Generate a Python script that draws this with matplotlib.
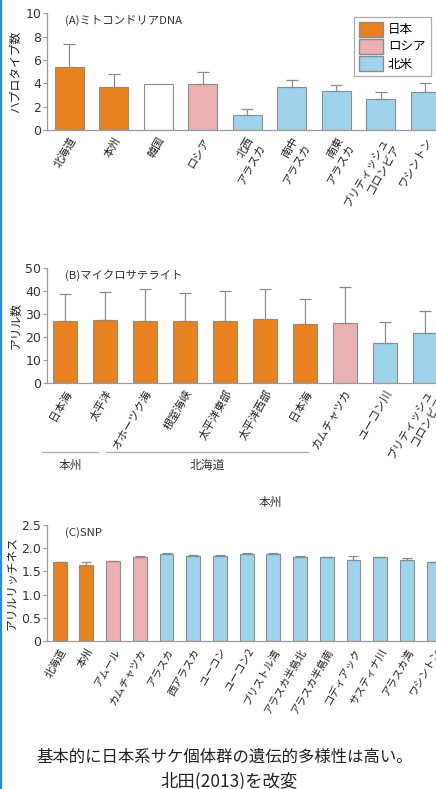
import matplotlib
matplotlib.use("Agg")
import matplotlib.pyplot as plt
from matplotlib.patches import Patch
from matplotlib.lines import Line2D

plt.rcParams['font.family'] = ['Noto Sans CJK JP', 'DejaVu Sans']

ORANGE = '#E8821F'
PINK = '#EAB0B2'
BLUE = '#9DD3EB'
WHITE = '#FFFFFF'
EDGE = '#8C8C8C'
GRID = '#9A9A9A'

# (A) mitochondrial DNA
a_labels = ['北海道', '本州', '韓国', 'ロシア', '北西\nアラスカ', '南中\nアラスカ',
            '南東\nアラスカ', 'ブリティッシュ\nコロンビア', 'ワシントン']
a_values = [5.43, 3.71, 3.94, 3.91, 1.31, 3.66, 3.37, 2.66, 3.23]
a_upper = [7.34, 4.80, None, 5.00, 1.80, 4.29, 3.86, 3.23, 4.06]
a_colors = [ORANGE, ORANGE, WHITE, PINK, BLUE, BLUE, BLUE, BLUE, BLUE]

# (B) microsatellite
b_labels = ['日本海', '太平洋', 'オホーツク海', '根室海峡', '太平洋東部', '太平洋西部',
            '日本海', 'カムチャツカ', 'ユーコン川', 'ブリティッシュ\nコロンビア']
b_values = [26.9, 27.2, 26.9, 26.7, 26.9, 27.8, 25.6, 25.9, 17.1, 21.7]
b_upper = [38.6, 39.6, 40.6, 38.9, 40.0, 40.9, 36.5, 41.5, 26.5, 31.3]
b_colors = [ORANGE] * 7 + [PINK] + [BLUE] * 2

# (C) SNP
c_labels = ['北海道', '本州', 'アムール', 'カムチャツカ', 'アラスカ', '西アラスカ', 'ユーコン',
            'ユーコン2', 'ブリストル湾', 'アラスカ半島北', 'アラスカ半島南', 'コディアック',
            'サスティナ川', 'アラスカ湾', 'ワシントン']
c_values = [1.70, 1.64, 1.72, 1.82, 1.87, 1.84, 1.84, 1.88, 1.87, 1.80, 1.80, 1.75, 1.80, 1.75, 1.70]
c_upper = [1.71, 1.70, 1.73, 1.83, 1.90, 1.86, 1.86, 1.90, 1.89, 1.84, 1.82, 1.84, 1.81, 1.79, 1.71]
c_colors = [ORANGE] * 2 + [PINK] * 2 + [BLUE] * 11

fig = plt.figure(figsize=(4.36, 7.89), dpi=100)
fig.patch.set_facecolor('white')


def panel(rect, labels, values, upper, colors, width, xlim, ylim, yticks, ytlabels,
          ylabel, title, lab_size):
    ax = fig.add_axes(rect)
    x = list(range(len(values)))
    ax.bar(x, values, width=width, color=colors, edgecolor=EDGE, linewidth=0.8, zorder=2)
    for xi, v, u in zip(x, values, upper):
        if u is None:
            continue
        ax.errorbar(xi, v, yerr=[[0], [u - v]], fmt='none', ecolor=EDGE,
                    elinewidth=0.9, capsize=4 * width / 0.6, capthick=0.9, zorder=3)
    ax.set_xlim(*xlim)
    ax.set_ylim(*ylim)
    ax.set_yticks(yticks)
    ax.set_yticklabels(ytlabels, fontsize=9, family=['DejaVu Sans'], color='#333333')
    ax.set_xticks(x)
    ax.set_xticklabels(labels, rotation=60, ha='right', va='top',
                       rotation_mode='anchor', fontsize=lab_size, linespacing=1.4,
                       color='#222222')
    ax.tick_params(axis='x', length=0, pad=4)
    ax.tick_params(axis='y', direction='out', length=3, width=0.8, color=GRID, pad=1)
    for s in ['top', 'right']:
        ax.spines[s].set_visible(False)
    for s in ['left', 'bottom']:
        ax.spines[s].set_color(GRID)
        ax.spines[s].set_linewidth(0.9)
    ax.set_ylabel(ylabel, fontsize=8.5, labelpad=3, color='#222222')
    ax.text(0.045, 0.985, title, transform=ax.transAxes, fontsize=8.2,
            ha='left', va='top', color='#333333')
    ax.patch.set_alpha(0)
    return ax


axA = panel([47 / 436, 1 - 130 / 789, 389 / 436, 116.7 / 789],
            a_labels, a_values, a_upper, a_colors, 0.65, (-0.5, 8.24), (0, 10),
            [0, 2, 4, 6, 8, 10], ['0', '2', '4', '6', '8', '10'],
            'ハプロタイプ数', '(A)ミトコンドリアDNA', 8)

handles = [Patch(facecolor=ORANGE, edgecolor=EDGE, label='日本'),
           Patch(facecolor=PINK, edgecolor=EDGE, label='ロシア'),
           Patch(facecolor=BLUE, edgecolor=EDGE, label='北米')]
leg = axA.legend(handles=handles, loc='upper right', bbox_to_anchor=(0.986, 0.97),
                 fontsize=9, frameon=True, fancybox=False, handlelength=1.9,
                 handleheight=1.45, handletextpad=0.4, labelspacing=0.2,
                 borderpad=0.4, borderaxespad=0)
leg.get_frame().set_edgecolor(GRID)
leg.get_frame().set_linewidth(0.9)

axB = panel([47 / 436, 1 - 382.5 / 789, 389 / 436, 114.7 / 789],
            b_labels, b_values, b_upper, b_colors, 0.6, (-0.44, 9.28), (0, 50),
            [0, 10, 20, 30, 40, 50], ['0', '10', '20', '30', '40', '50'],
            'アリル数', '(B)マイクロサテライト', 8)

axC = panel([47 / 436, 1 - 641 / 789, 389 / 436, 116 / 789],
            c_labels, c_values, c_upper, c_colors, 0.52, (-0.475, 14.09), (0, 2.5),
            [0, 0.5, 1.0, 1.5, 2.0, 2.5], ['0', '0.5', '1.0', '1.5', '2.0', '2.5'],
            'アリルリッチネス', '(C)SNP', 7.6)

# region brackets under panel B
groups = [('本州', 42, 98), ('北海道', 106, 308)]
for name, x0, x1 in groups:
    fig.add_artist(Line2D([x0 / 436, x1 / 436], [1 - 452 / 789] * 2,
                          color='#AAAAAA', linewidth=0.9))
    fig.text((x0 + x1) / 2 / 436, 1 - 465 / 789, name, ha='center', va='center',
             fontsize=8.5, color='#333333')
fig.text(270 / 436, 1 - 502 / 789, '本州', ha='center', va='center',
         fontsize=8.5, color='#333333')

# left border line
fig.add_artist(Line2D([0.002, 0.002], [0, 1], color='#1E8FE0', linewidth=1.6))

fig.text(225 / 436, 1 - 757 / 789, '基本的に日本系サケ個体群の遺伝的多様性は高い。',
         ha='center', va='center', fontsize=11.8, color='#222222')
fig.text(229 / 436, 1 - 781 / 789, '北田(2013)を改変', ha='center', va='center',
         fontsize=12.5, color='#222222')

fig.savefig('out.png', dpi=100)
